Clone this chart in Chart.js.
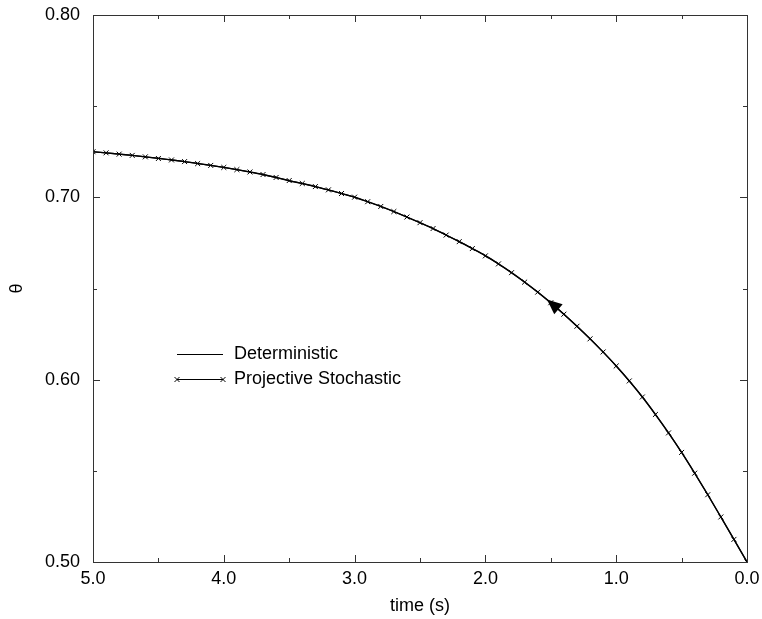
<!DOCTYPE html>
<html>
<head>
<meta charset="utf-8">
<script src="https://cdn.jsdelivr.net/npm/chart.js@4.4.1/dist/chart.umd.min.js"></script>
<style>
  html, body { margin: 0; padding: 0; background: #fff; }
  #wrap { width: 762px; height: 619px; }
</style>
</head>
<body>
<div id="wrap"><canvas id="chart" width="762" height="619"></canvas></div>
<script>
// time (s), read every 0.1 s off the picture
const times = [
  5.0, 4.9, 4.8, 4.7, 4.6, 4.5, 4.4, 4.3, 4.2, 4.1,
  4.0, 3.9, 3.8, 3.7, 3.6, 3.5, 3.4, 3.3, 3.2, 3.1,
  3.0, 2.9, 2.8, 2.7, 2.6, 2.5, 2.4, 2.3, 2.2, 2.1,
  2.0, 1.9, 1.8, 1.7, 1.6, 1.5, 1.4, 1.3, 1.2, 1.1,
  1.0, 0.9, 0.8, 0.7, 0.6, 0.5, 0.4, 0.3, 0.2, 0.1, 0.0
];

const deterministic = [
  0.7250, 0.7244, 0.7237, 0.7230, 0.7222, 0.7214, 0.7205, 0.7196, 0.7186, 0.7175,
  0.7164, 0.7152, 0.7139, 0.7125, 0.7109, 0.7091, 0.7076, 0.7059, 0.7041, 0.7021,
  0.7000, 0.6976, 0.6950, 0.6922, 0.6892, 0.6861, 0.6828, 0.6793, 0.6757, 0.6719,
  0.6680, 0.6635, 0.6587, 0.6535, 0.6480, 0.6421, 0.6359, 0.6293, 0.6224, 0.6151,
  0.6075, 0.5993, 0.5905, 0.5809, 0.5708, 0.5601, 0.5487, 0.5369, 0.5247, 0.5124, 0.5000
];

const stochastic = [
  0.7250, 0.7244, 0.7237, 0.7230, 0.7222, 0.7213, 0.7205, 0.7196, 0.7185, 0.7175,
  0.7164, 0.7152, 0.7139, 0.7125, 0.7109, 0.7092, 0.7076, 0.7059, 0.7041, 0.7021,
  0.7001, 0.6976, 0.6950, 0.6922, 0.6892, 0.6861, 0.6829, 0.6793, 0.6757, 0.6719,
  0.6679, 0.6635, 0.6587, 0.6535, 0.6480, 0.6422, 0.6359, 0.6293, 0.6224, 0.6152,
  0.6075, 0.5993, 0.5905, 0.5809, 0.5708, 0.5601, 0.5487, 0.5369, 0.5247, 0.5124, 0.5000
];

const seriesLabels = ['Deterministic', 'Projective Stochastic'];
const xTicks = [5.0, 4.0, 3.0, 2.0, 1.0, 0.0];
const yTicks = [0.50, 0.60, 0.70, 0.80];
const arrowAt = 1.5;

const FONT = 'Arial, "Liberation Sans", Helvetica, sans-serif';
const toPoints = (ys) => times.map((t, i) => ({ x: t, y: ys[i] }));

// frame, inward ticks on all four sides, arrow head, legend
const decorations = {
    id: 'decorations',
    afterDatasetsDraw(chart) {
        const { ctx, chartArea: a, scales: { x, y } } = chart;
        ctx.save();
        ctx.strokeStyle = '#333';
        ctx.lineWidth = 1;
        ctx.strokeRect(a.left + 0.5, a.top + 0.5, a.right - a.left, a.bottom - a.top);

        ctx.beginPath();
        for (let v = 0; v <= 5.0001; v += 0.5) {
            const px = Math.round(x.getPixelForValue(v)) + 0.5;
            const len = Math.abs(v - Math.round(v)) < 1e-6 ? 7 : 4;
            ctx.moveTo(px, a.bottom); ctx.lineTo(px, a.bottom - len);
            ctx.moveTo(px, a.top); ctx.lineTo(px, a.top + len);
        }
        for (let k = 0; k <= 6; k++) {
            const v = 0.5 + k * 0.05;
            const py = Math.round(y.getPixelForValue(v)) + 0.5;
            const len = k % 2 === 0 ? 7 : 4;
            ctx.moveTo(a.left, py); ctx.lineTo(a.left + len, py);
            ctx.moveTo(a.right, py); ctx.lineTo(a.right - len, py);
        }
        ctx.stroke();

        // arrow head on the curve, pointing toward growing time
        const i = times.indexOf(arrowAt);
        const p = { x: x.getPixelForValue(times[i]), y: y.getPixelForValue(stochastic[i]) };
        const q0 = { x: x.getPixelForValue(times[i + 1]), y: y.getPixelForValue(stochastic[i + 1]) };
        const q1 = { x: x.getPixelForValue(times[i - 1]), y: y.getPixelForValue(stochastic[i - 1]) };
        let dx = q1.x - q0.x, dy = q1.y - q0.y;
        const d = Math.hypot(dx, dy); dx /= d; dy /= d;
        const tip = { x: p.x + dx * 5, y: p.y + dy * 5 };
        const base = { x: p.x - dx * 10, y: p.y - dy * 10 };
        ctx.fillStyle = '#000';
        ctx.beginPath();
        ctx.moveTo(tip.x, tip.y);
        ctx.lineTo(base.x - dy * 6.5, base.y + dx * 6.5);
        ctx.lineTo(base.x + dy * 6.5, base.y - dx * 6.5);
        ctx.closePath();
        ctx.fill();

        // legend
        const lx0 = a.left + 84, lx1 = a.left + 130, tx = a.left + 141;
        const rows = [a.top + 339, a.top + 364];
        ctx.font = '18px ' + FONT;
        ctx.textBaseline = 'middle';
        ctx.textAlign = 'left';
        rows.forEach((ry, k) => {
            ctx.strokeStyle = '#000';
            ctx.lineWidth = 1;
            ctx.beginPath();
            ctx.moveTo(lx0, ry + 0.5); ctx.lineTo(lx1, ry + 0.5);
            ctx.stroke();
            if (k === 1) {
                [lx0, lx1].forEach((cx) => {
                    ctx.beginPath();
                    ctx.moveTo(cx - 2.5, ry - 2); ctx.lineTo(cx + 2.5, ry + 3);
                    ctx.moveTo(cx - 2.5, ry + 3); ctx.lineTo(cx + 2.5, ry - 2);
                    ctx.stroke();
                });
            }
            ctx.fillStyle = '#000';
            ctx.fillText(seriesLabels[k], tx, ry);
        });
        ctx.restore();
    }
};

new Chart(document.getElementById('chart'), {
    type: 'scatter',
    data: {
        datasets: [
            {
                label: seriesLabels[0],
                data: toPoints(deterministic),
                showLine: true,
                borderColor: '#000',
                borderWidth: 1.4,
                pointRadius: 0,
                cubicInterpolationMode: 'monotone'
            },
            {
                label: seriesLabels[1],
                data: toPoints(stochastic),
                showLine: true,
                borderColor: '#000',
                backgroundColor: '#000',
                borderWidth: 1.2,
                pointStyle: 'crossRot',
                pointRadius: 3.5,
                pointBorderWidth: 1,
                cubicInterpolationMode: 'monotone'
            }
        ]
    },
    options: {
        responsive: false,
        animation: false,
        events: [],
        layout: { padding: { left: 0, top: 15, right: 15, bottom: 0 } },
        plugins: { legend: { display: false }, tooltip: { enabled: false } },
        scales: {
            x: {
                type: 'linear',
                reverse: true,
                min: 0,
                max: 5,
                afterFit: (s) => {
                    s.height = 57;
                    s.paddingLeft = 0;
                    s.paddingRight = 0;
                },
                afterBuildTicks: (s) => { s.ticks = xTicks.map((v) => ({ value: v })); },
                grid: { display: false, drawTicks: false },
                border: { display: false },
                ticks: {
                    padding: 6,
                    color: '#000',
                    font: { family: FONT, size: 18 },
                    maxRotation: 0,
                    callback: (v) => Number(v).toFixed(1)
                },
                title: {
                    display: true,
                    text: 'time (s)',
                    color: '#000',
                    font: { family: FONT, size: 18 },
                    padding: { top: 0, bottom: 2 }
                }
            },
            y: {
                type: 'linear',
                min: 0.5,
                max: 0.8,
                afterFit: (s) => {
                    s.width = 93;
                    s.paddingTop = 0;
                    s.paddingBottom = 0;
                },
                afterBuildTicks: (s) => { s.ticks = yTicks.map((v) => ({ value: v })); },
                grid: { display: false, drawTicks: false },
                border: { display: false },
                ticks: {
                    padding: 13,
                    color: '#000',
                    font: { family: FONT, size: 18 },
                    callback: (v) => Number(v).toFixed(2)
                },
                title: {
                    display: true,
                    text: 'θ',
                    color: '#000',
                    font: { family: FONT, size: 18 },
                    padding: { top: 6, bottom: 0 }
                }
            }
        }
    },
    plugins: [decorations]
});
</script>
</body>
</html>
